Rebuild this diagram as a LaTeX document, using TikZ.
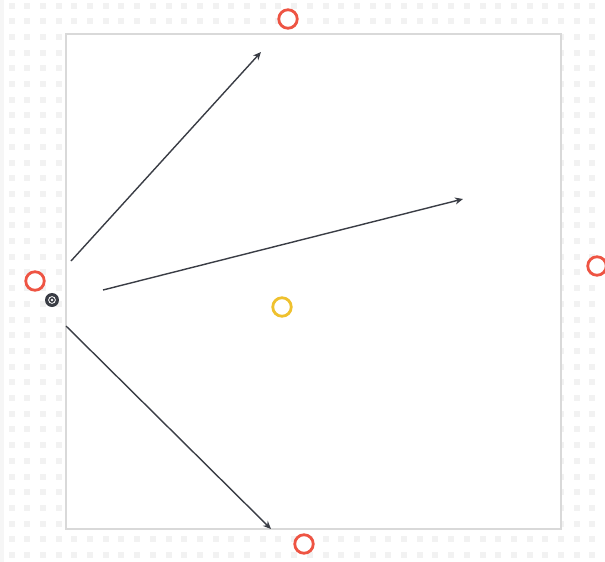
\documentclass[tikz,border=0pt]{standalone}
\usetikzlibrary{arrows.meta}
\definecolor{dotc}{HTML}{F2F2F2}
\definecolor{framec}{HTML}{D9D9D9}
\definecolor{redc}{HTML}{EE5443}
\definecolor{yelc}{HTML}{EFC12E}
\definecolor{arrc}{HTML}{3A3D45}
\tikzset{
  handle/.style={circle, draw=redc, line width=2.8pt, minimum size=18.5pt, inner sep=0pt, fill=white},
  center/.style={circle, draw=yelc, line width=2.8pt, minimum size=18.5pt, inner sep=0pt, fill=white},
  conn/.style={draw=arrc, line width=1.4pt, -{Stealth[length=8pt,width=7pt]}},
}
\begin{document}
\begin{tikzpicture}[x=1pt,y=-1pt]
\useasboundingbox (0,0) rectangle (605,562);
\fill[white] (0,0) rectangle (605,562);
\fill[gray!7] (0,0) rectangle (4,562);
\foreach \i in {0,...,38} {
  \foreach \j in {0,...,36} {
    \fill[dotc] ({11.5+15.7*\i-3},{5.5+15.7*\j-3}) rectangle ++(6,6);
  }
}
\node[draw=framec, line width=1.8pt, fill=white, minimum width=495pt, minimum height=495pt, inner sep=0pt, anchor=north west] (box) at (65,33) {};
\coordinate (s1) at (71,261);
\coordinate (e1) at (261,52);
\coordinate (s2) at (103,290);
\coordinate (e2) at (463,199);
\coordinate (s3) at (66,326);
\coordinate (e3) at (271,529);
\draw[conn] (s1) -- (e1);
\draw[conn] (s2) -- (e2);
\draw[conn] (s3) -- (e3);
\node[handle] (top) at (288,19) {};
\node[handle] (left) at (35,281) {};
\node[handle] (right) at (597,266) {};
\node[handle] (bottom) at (304,544) {};
\node[center] (mid) at (282,307) {};
\node[circle, fill=arrc, minimum size=14pt, inner sep=0pt] (rot) at (52,300) {};
\draw[white, line width=0.8pt] (rot) circle (3.4pt);
\fill[white] (rot) circle (1.4pt);
\end{tikzpicture}
\end{document}
